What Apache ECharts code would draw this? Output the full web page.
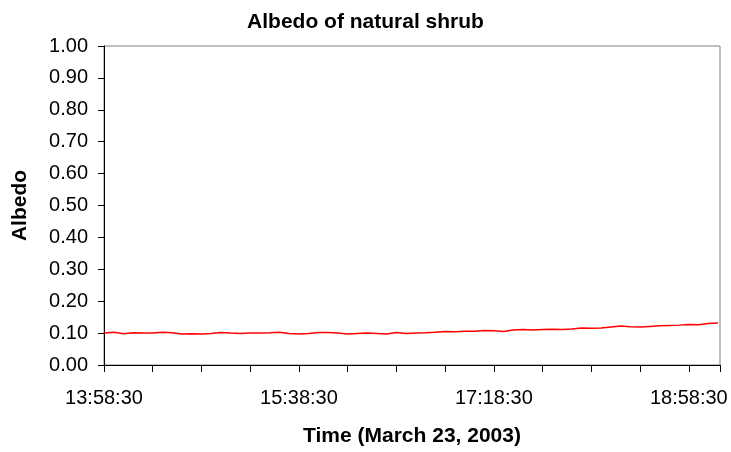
<!DOCTYPE html>
<html>
<head>
<meta charset="utf-8">
<script src="https://cdn.jsdelivr.net/npm/echarts@6/dist/echarts.min.js"></script>
<style>
  html, body { margin: 0; padding: 0; background: #fff; }
  #chart { width: 731px; height: 452px; }
</style>
</head>
<body>
<div id="chart"></div>
<script>
// albedo, one value every 5 minutes from 13:58:30
var albedo = [
  0.100, 0.103, 0.098, 0.101, 0.100, 0.100, 0.103, 0.101, 0.097, 0.098,
  0.097, 0.099, 0.102, 0.100, 0.099, 0.100, 0.100, 0.101, 0.103, 0.099,
  0.097, 0.099, 0.102, 0.102, 0.100, 0.097, 0.099, 0.100, 0.099, 0.097,
  0.102, 0.099, 0.100, 0.101, 0.103, 0.105, 0.104, 0.106, 0.106, 0.108,
  0.107, 0.105, 0.110, 0.111, 0.110, 0.111, 0.112, 0.111, 0.113, 0.116,
  0.115, 0.116, 0.119, 0.122, 0.120, 0.119, 0.121, 0.123, 0.124, 0.125,
  0.127, 0.126, 0.130, 0.132
];
var stepMinutes = 5;
var tickLabels = ['13:58:30', '15:38:30', '17:18:30', '18:58:30'];

var points = albedo.map(function (v, i) { return [i * stepMinutes, v]; });

var myChart = echarts.init(document.getElementById('chart'));
var font = 'Liberation Sans, Arial, sans-serif';
var option = {
  backgroundColor: '#fff',
  animation: false,
  title: {
    text: 'Albedo of natural shrub',
    left: 'center',
    top: 7,
    textStyle: { fontFamily: font, fontSize: 21, fontWeight: 'bold', color: '#000' }
  },
  grid: {
    left: 104, right: 11, top: 46, bottom: 85,
    show: true, borderColor: '#808080', borderWidth: 1
  },
  xAxis: {
    type: 'value',
    min: 0, max: 316, interval: 25,
    name: 'Time (March 23, 2003)',
    nameLocation: 'middle',
    nameGap: 61,
    nameTextStyle: { fontFamily: font, fontSize: 21, fontWeight: 'bold', color: '#000' },
    axisLine: { show: true, lineStyle: { color: '#000', width: 1 } },
    axisTick: { show: true, length: 7, lineStyle: { color: '#000' } },
    splitLine: { show: false },
    axisLabel: {
      margin: 23,
      fontFamily: font, fontSize: 20, color: '#000',
      formatter: function (v) {
        return v % 100 === 0 ? (tickLabels[v / 100] || '') : '';
      }
    }
  },
  yAxis: {
    type: 'value',
    min: 0, max: 1, interval: 0.1,
    name: 'Albedo',
    nameLocation: 'middle',
    nameGap: 73,
    nameTextStyle: { fontFamily: font, fontSize: 21, fontWeight: 'bold', color: '#000' },
    axisLine: { show: true, lineStyle: { color: '#000', width: 1 } },
    axisTick: { show: true, length: 6, lineStyle: { color: '#000' } },
    splitLine: { show: false },
    axisLabel: {
      margin: 16,
      fontFamily: font, fontSize: 20, color: '#000',
      formatter: function (v) { return v.toFixed(2); }
    }
  },
  series: [{
    type: 'line',
    data: points,
    showSymbol: false,
    lineStyle: { color: '#ff0000', width: 1.5 },
    itemStyle: { color: '#ff0000' }
  }]
};
myChart.setOption(option);
</script>
</body>
</html>
